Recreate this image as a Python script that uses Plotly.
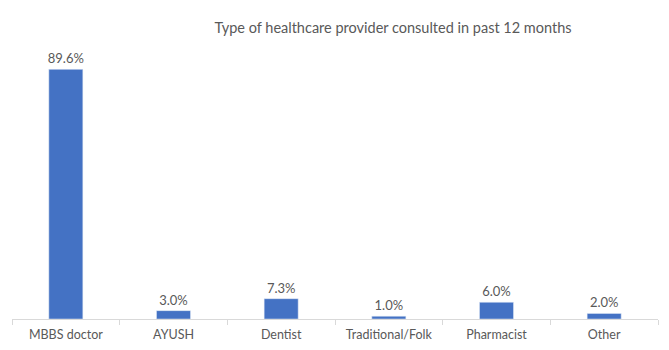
import plotly.graph_objects as go

categories = ["MBBS doctor", "AYUSH", "Dentist", "Traditional/Folk", "Pharmacist", "Other"]
values = [89.6, 3.0, 7.3, 1.0, 6.0, 2.0]
labels = ["89.6%", "3.0%", "7.3%", "1.0%", "6.0%", "2.0%"]
title = "Type of healthcare provider consulted in past 12 months"

fig = go.Figure(go.Bar(
    x=categories, y=values, text=labels, textposition="outside",
    marker_color="#4472C4", cliponaxis=False,
    textfont=dict(family="Lato", size=13, color="#595959"),
))
fig.update_layout(
    width=669, height=350,
    margin=dict(l=12, r=11, t=0, b=31),
    paper_bgcolor="white", plot_bgcolor="white",
    bargap=0.684, showlegend=False,
    uniformtext=dict(minsize=13, mode="show"),
    font=dict(family="Lato", color="#595959"),
    title=dict(text=title, x=393/669, xanchor="center", y=1 - 28/350, yanchor="middle",
               font=dict(family="Lato", size=14.5, color="#595959")),
)
fig.update_xaxes(showline=True, linecolor="#d9d9d9", linewidth=1, ticks="outside",
                 tickson="boundaries", ticklen=5, tickcolor="#d9d9d9",
                 ticklabelstandoff=4,
                 tickfont=dict(family="Lato", size=12.5, color="#595959"), showgrid=False)
fig.update_yaxes(range=[0, 114.5], visible=False, showgrid=False)
fig.write_html("out.html")
